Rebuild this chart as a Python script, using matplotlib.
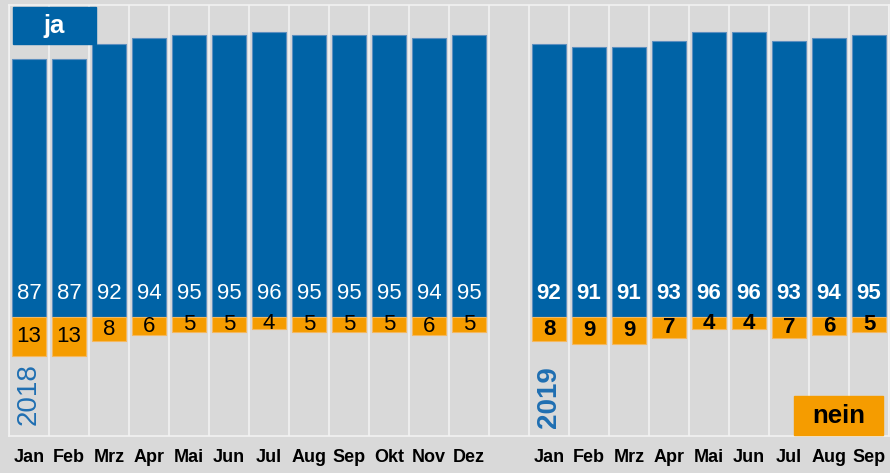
import matplotlib.pyplot as plt
from matplotlib.patches import Rectangle

plt.rcParams['font.family'] = ['Liberation Sans', 'DejaVu Sans']

months_2018 = ["Jan", "Feb", "Mrz", "Apr", "Mai", "Jun", "Jul", "Aug", "Sep", "Okt", "Nov", "Dez"]
ja_2018 = [87, 87, 92, 94, 95, 95, 96, 95, 95, 95, 94, 95]
nein_2018 = [13, 13, 8, 6, 5, 5, 4, 5, 5, 5, 6, 5]

months_2019 = ["Jan", "Feb", "Mrz", "Apr", "Mai", "Jun", "Jul", "Aug", "Sep"]
ja_2019 = [92, 91, 91, 93, 96, 96, 93, 94, 95]
nein_2019 = [8, 9, 9, 7, 4, 4, 7, 6, 5]

BLUE = '#0063a6'
ORANGE = '#f59c00'
BG = '#d9d9d9'

# slot positions: 12 months, one empty slot, 9 months
x18 = list(range(len(months_2018)))
x19 = [len(months_2018) + 1 + i for i in range(len(months_2019))]
nslots = len(months_2018) + 1 + len(months_2019)

fig = plt.figure(figsize=(8.9, 4.73), dpi=100, facecolor=BG)
ax = fig.add_axes([0.0101, 0.0782, 0.9888, 0.9112])
ax.set_facecolor(BG)

w = 0.83
for xs, ja, nein, bold in [(x18, ja_2018, nein_2018, False), (x19, ja_2019, nein_2019, True)]:
    ax.bar(xs, ja, width=w, color=BLUE, edgecolor='#5d8fbf', linewidth=0.8, zorder=3)
    ax.bar(xs, [-v for v in nein], width=w, color=ORANGE, edgecolor='#f4b860', linewidth=0.8, zorder=3)
    fw = 'bold' if bold else 'normal'
    for x, j, n in zip(xs, ja, nein):
        ax.text(x, 8, str(j), color='white', fontsize=16, fontweight=fw,
                ha='center', va='center', zorder=4)
        ax.text(x, -n / 2, str(n), color='black', fontsize=16, fontweight=fw,
                ha='center', va='center', zorder=4)

# white separators between slots
for b in range(nslots + 1):
    ax.axvline(b - 0.5, color='#f2f2f2', linewidth=1.2, zorder=1)

ax.set_xlim(-0.5, nslots - 0.5)
ax.set_ylim(-40, 105)

ax.set_xticks(x18 + x19)
ax.set_xticklabels(months_2018 + months_2019, fontsize=13, fontweight='bold')
ax.tick_params(axis='x', length=0, pad=9)
ax.set_yticks([])
for s in ax.spines.values():
    s.set_color('#f2f2f2')
    s.set_linewidth(1.2)

ax.text(x18[0], -26, "2018", rotation=90, color='#1f6fb2', fontsize=20,
        ha='center', va='center')
ax.text(x19[0], -27, "2019", rotation=90, color='#1f6fb2', fontsize=20,
        fontweight='bold', ha='center', va='center')

# legend boxes
ax.add_patch(Rectangle((0.0045, 0.9095), 0.0945, 0.0855, transform=ax.transAxes,
                       color=BLUE, zorder=5, clip_on=False))
ax.text(0.0518, 0.952, "ja", transform=ax.transAxes, color='white', fontsize=18.5,
        fontweight='bold', ha='center', va='center', zorder=6)
ax.add_patch(Rectangle((0.892, 0.0023), 0.101, 0.0907, transform=ax.transAxes,
                       color=ORANGE, zorder=5, clip_on=False))
ax.text(0.9425, 0.047, "nein", transform=ax.transAxes, color='black', fontsize=18.5,
        fontweight='bold', ha='center', va='center', zorder=6)

fig.savefig('out.png', dpi=100, facecolor=BG)
